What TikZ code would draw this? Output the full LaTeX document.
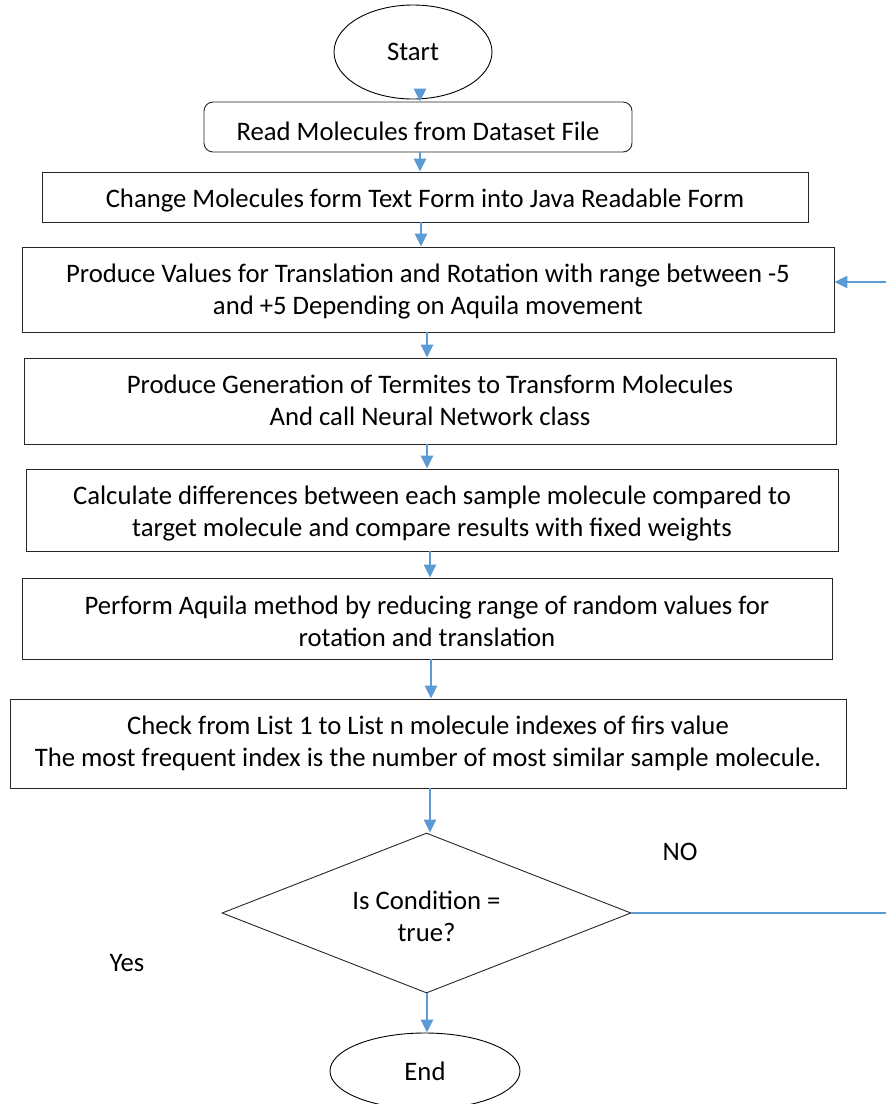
\documentclass[tikz,border=0pt]{standalone}
\usepackage{fontspec}
\setmainfont{Carlito}
\usetikzlibrary{shapes.geometric,arrows.meta}
\definecolor{linkblue}{HTML}{5B9BD5}
\begin{document}
\begin{tikzpicture}[x=1pt,y=-1pt,
  every node/.style={font=\fontsize{26.7}{32}\selectfont, text=black},
  % text is hung from the top edge: the last baseline sits #2 below the top of a box #1 high
  stepbox/.style 2 args={draw=black!85, line width=0.9pt, align=center, inner sep=0pt,
                   minimum height=#1pt, text height=#2pt, text depth={#1pt-#2pt}},
  terminal/.style={ellipse, draw=black, line width=0.9pt, inner sep=0pt},
  decision/.style={diamond, draw=black!85, line width=0.9pt, align=center, inner sep=0pt,
                   minimum width=409pt, minimum height=160pt, aspect=2.56,
                   text height=60pt, text depth=4pt},
  flow/.style={draw=linkblue, line width=2.4pt, -{Triangle[width=12pt,length=13pt]}},
  thinflow/.style={draw=linkblue, line width=1.6pt}]
\useasboundingbox (0,0) rectangle (886,1104);

% terminals
\node[terminal, minimum width=158pt, minimum height=94pt] (start) at (413,52) {Start};
\node[terminal, minimum width=190pt, minimum height=76pt] (stop) at (425,1071) {End};

% process steps
\node[stepbox={50}{38}, rounded corners=9pt, minimum width=428pt] (read) at (418,127)
  {Read Molecules from Dataset File};
\node[stepbox={50}{35.5}, minimum width=766pt] (convert) at (425,197)
  {Change Molecules form Text Form into Java Readable Form};
\node[stepbox={85}{67.5}, minimum width=812pt] (values) at (428,289.5)
  {Produce Values for Translation and Rotation with range between -5\\and +5 Depending on Aquila movement};
\node[stepbox={86}{67.5}, minimum width=812pt] (termites) at (430,401)
  {Produce Generation of Termites to Transform Molecules\\And call Neural Network class};
\node[stepbox={82}{67.5}, minimum width=812pt] (diffs) at (432,510)
  {Calculate differences between each sample molecule compared to\\target molecule and compare results with fixed weights};
\node[stepbox={81}{68.5}, minimum width=810pt] (aquila) at (427,618.5)
  {Perform Aquila method by reducing range of random values for\\rotation and translation};
\node[stepbox={89}{67.5}, minimum width=836pt] (check) at (428,743.5)
  {Check from List 1 to List n molecule indexes of firs value\\The most frequent index is the number of most similar sample molecule.};

% decision
\node[decision] (cond) at (426.5,913) {Is Condition =\\true?};

% branch labels
\node (no) at (680,852) {NO};
\node (yes) at (127,963) {Yes};

% main flow
\draw[flow] ([xshift=7pt]start.south) -- ([xshift=2pt]read.north);
\draw[flow] ([xshift=2pt]read.south) -- ([xshift=-5pt]convert.north);
\draw[flow] ([xshift=-4pt]convert.south) -- ([xshift=-7pt]values.north);
\draw[flow] ([xshift=-1pt]values.south) -- ([xshift=-3pt]termites.north);
\draw[flow] ([xshift=-3pt]termites.south) -- ([xshift=-5pt]diffs.north);
\draw[flow] ([xshift=-2pt]diffs.south) -- ([xshift=3pt]aquila.north);
\draw[flow] ([xshift=4pt]aquila.south) -- ([xshift=3pt]check.north);
\draw[flow] ([xshift=2pt]check.south) -- ([xshift=3.5pt]cond.north);
\draw[flow] ([xshift=0.5pt]cond.south) -- ([xshift=2pt]stop.north);

% loop back on NO
\coordinate (noend) at (886,913);
\coordinate (backin) at (886,282);
\draw[thinflow] (cond.east) -- (noend);
\draw[flow] (backin) -- (backin -| values.east);
\end{tikzpicture}
\end{document}
